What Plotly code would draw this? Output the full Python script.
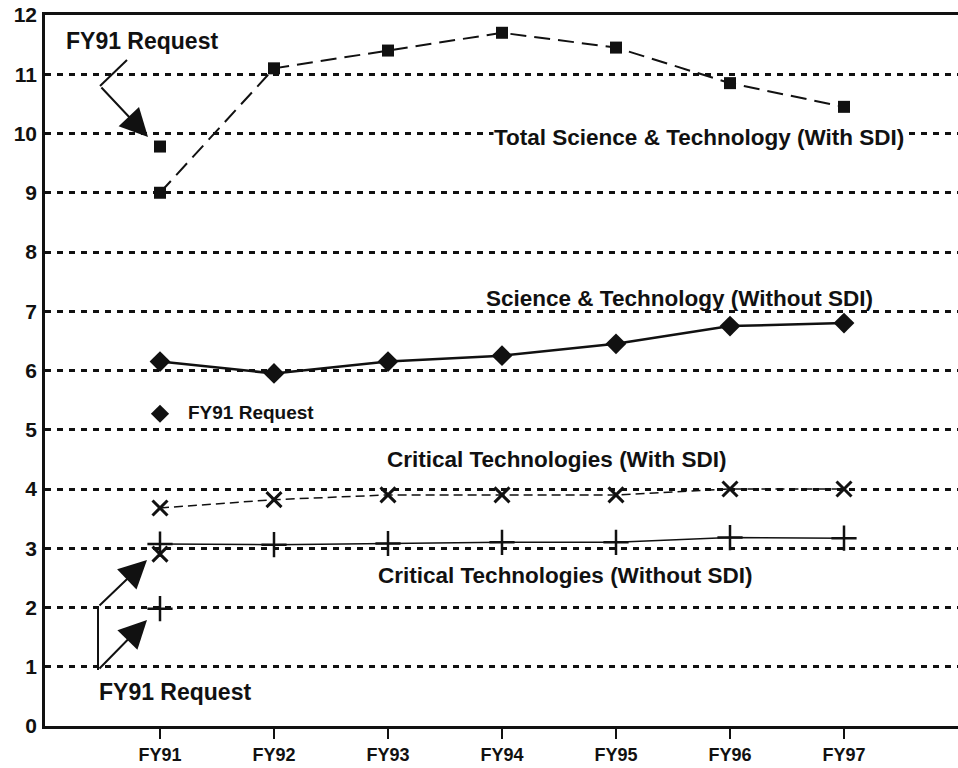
import plotly.graph_objects as go

# ---- data ----
years = ["FY91", "FY92", "FY93", "FY94", "FY95", "FY96", "FY97"]
total_st_with_sdi = [9.0, 11.1, 11.4, 11.7, 11.45, 10.85, 10.45]
st_without_sdi = [6.15, 5.95, 6.15, 6.25, 6.45, 6.75, 6.8]
crit_with_sdi = [3.68, 3.82, 3.9, 3.9, 3.9, 4.0, 4.0]
crit_without_sdi = [3.07, 3.06, 3.08, 3.1, 3.1, 3.18, 3.17]

req_total_st_with_sdi = [9.78]
req_st_without_sdi = [5.27]
req_crit_with_sdi = [2.9]
req_crit_without_sdi = [1.98]
req_year = ["FY91"]

y_ticks = list(range(0, 13))

# ---- layout geometry ----
W, H = 958, 768
ML, MR, MT, MB = 45, 0, 15, 42
PX_PER_X = 114.0
X0 = -(160 - ML) / PX_PER_X
X1 = X0 + (W - ML - MR) / PX_PER_X
Y_BOTTOM = H - MB
PX_PER_Y = (H - MB - MT) / 12.0

xpos = list(range(len(years)))
req_x = [years.index(y) for y in req_year]


def px2x(px):
    return X0 + (px - ML) / PX_PER_X


def px2y(py):
    return (Y_BOTTOM - py) / PX_PER_Y


FONT = "Liberation Sans, Arial, sans-serif"
INK = "#111111"

fig = go.Figure()

fig.add_trace(go.Scatter(
    x=xpos, y=total_st_with_sdi, mode="lines+markers",
    line=dict(color=INK, width=2, dash="16px,8px"),
    marker=dict(symbol="square", size=12, color=INK),
    name="Total Science & Technology (With SDI)"))
fig.add_trace(go.Scatter(
    x=req_x, y=req_total_st_with_sdi, mode="markers",
    marker=dict(symbol="square", size=12, color=INK), name="FY91 Request"))

fig.add_trace(go.Scatter(
    x=xpos, y=st_without_sdi, mode="lines+markers",
    line=dict(color=INK, width=2.5),
    marker=dict(symbol="diamond", size=16, color=INK),
    name="Science & Technology (Without SDI)"))
fig.add_trace(go.Scatter(
    x=req_x, y=req_st_without_sdi, mode="markers",
    marker=dict(symbol="diamond", size=14, color=INK), name="FY91 Request"))

fig.add_trace(go.Scatter(
    x=xpos, y=crit_with_sdi, mode="lines+markers",
    line=dict(color=INK, width=1.5, dash="9px,5px"),
    marker=dict(symbol="x-thin-open", size=15, color=INK, line=dict(color=INK, width=3)),
    name="Critical Technologies (With SDI)"))
fig.add_trace(go.Scatter(
    x=req_x, y=req_crit_with_sdi, mode="markers",
    marker=dict(symbol="x-thin-open", size=15, color=INK, line=dict(color=INK, width=3)),
    name="FY91 Request"))

fig.add_trace(go.Scatter(
    x=xpos, y=crit_without_sdi, mode="lines+markers",
    line=dict(color=INK, width=1.5),
    marker=dict(symbol="cross-thin-open", size=18, color=INK, line=dict(color=INK, width=2.5)),
    name="Critical Technologies (Without SDI)"))
fig.add_trace(go.Scatter(
    x=req_x, y=req_crit_without_sdi, mode="markers",
    marker=dict(symbol="cross-thin-open", size=18, color=INK, line=dict(color=INK, width=2.5)),
    name="FY91 Request"))

# ---- text labels ----
def label(text, left_px, cy_px, size=23, bg=None):
    fig.add_annotation(
        x=px2x(left_px), y=px2y(cy_px), xref="x", yref="y",
        text="<b>%s</b>" % text, showarrow=False, xanchor="left", yanchor="middle",
        font=dict(family=FONT, size=size, color=INK),
        bgcolor=bg, borderpad=0)


label("FY91 Request", 65, 41)
label("Total Science &amp; Technology (With SDI)", 493, 137, size=22.5, bg="white")
label("Science &amp; Technology (Without SDI)", 485, 298, size=22.5)
label("FY91 Request", 187, 412, size=19)
label("Critical Technologies (With SDI)", 386, 459, size=22.5)
label("Critical Technologies (Without SDI)", 377, 575, size=22.5)
label("FY91 Request", 98, 692)


def arrow(tip_px, tail_px):
    fig.add_annotation(
        x=px2x(tip_px[0]), y=px2y(tip_px[1]), xref="x", yref="y",
        ax=tail_px[0] - tip_px[0], ay=tail_px[1] - tip_px[1],
        text="", showarrow=True, arrowhead=2, arrowsize=2.8, arrowwidth=2,
        arrowcolor=INK)


def seg(p0, p1):
    fig.add_shape(type="line", xref="x", yref="y",
                  x0=px2x(p0[0]), y0=px2y(p0[1]), x1=px2x(p1[0]), y1=px2y(p1[1]),
                  line=dict(color=INK, width=2))


seg((127, 60), (100, 86))
arrow((148, 137), (100, 86))
seg((98, 607), (98, 670))
arrow((147, 560), (98, 607))
arrow((147, 620), (98, 670))

fig.update_layout(
    width=W, height=H,
    margin=dict(l=ML, r=MR, t=MT, b=MB),
    paper_bgcolor="white", plot_bgcolor="white",
    showlegend=False,
    font=dict(family=FONT, color=INK),
    xaxis=dict(
        range=[X0, X1], tickvals=xpos, ticktext=years,
        showgrid=False, zeroline=False,
        showline=True, linecolor=INK, linewidth=3, mirror=True,
        ticks="outside", ticklen=10, tickwidth=1.5, tickcolor=INK,
        tickfont=dict(family=FONT, size=18, color=INK, weight="bold"),
    ),
    yaxis=dict(
        range=[0, 12], tickvals=y_ticks, ticktext=[str(v) for v in y_ticks],
        showgrid=True, gridcolor=INK, gridwidth=2.5, griddash="6px,6px",
        zeroline=False,
        showline=True, linecolor=INK, linewidth=2.5,
        ticks="", ticklabelstandoff=1,
        tickfont=dict(family=FONT, size=21, color=INK, weight="bold"),
    ),
)

fig.write_html(
    "out.html",
    config={"displayModeBar": False},
    post_script="document.body.style.margin='0px';document.body.style.overflow='hidden';",
)
